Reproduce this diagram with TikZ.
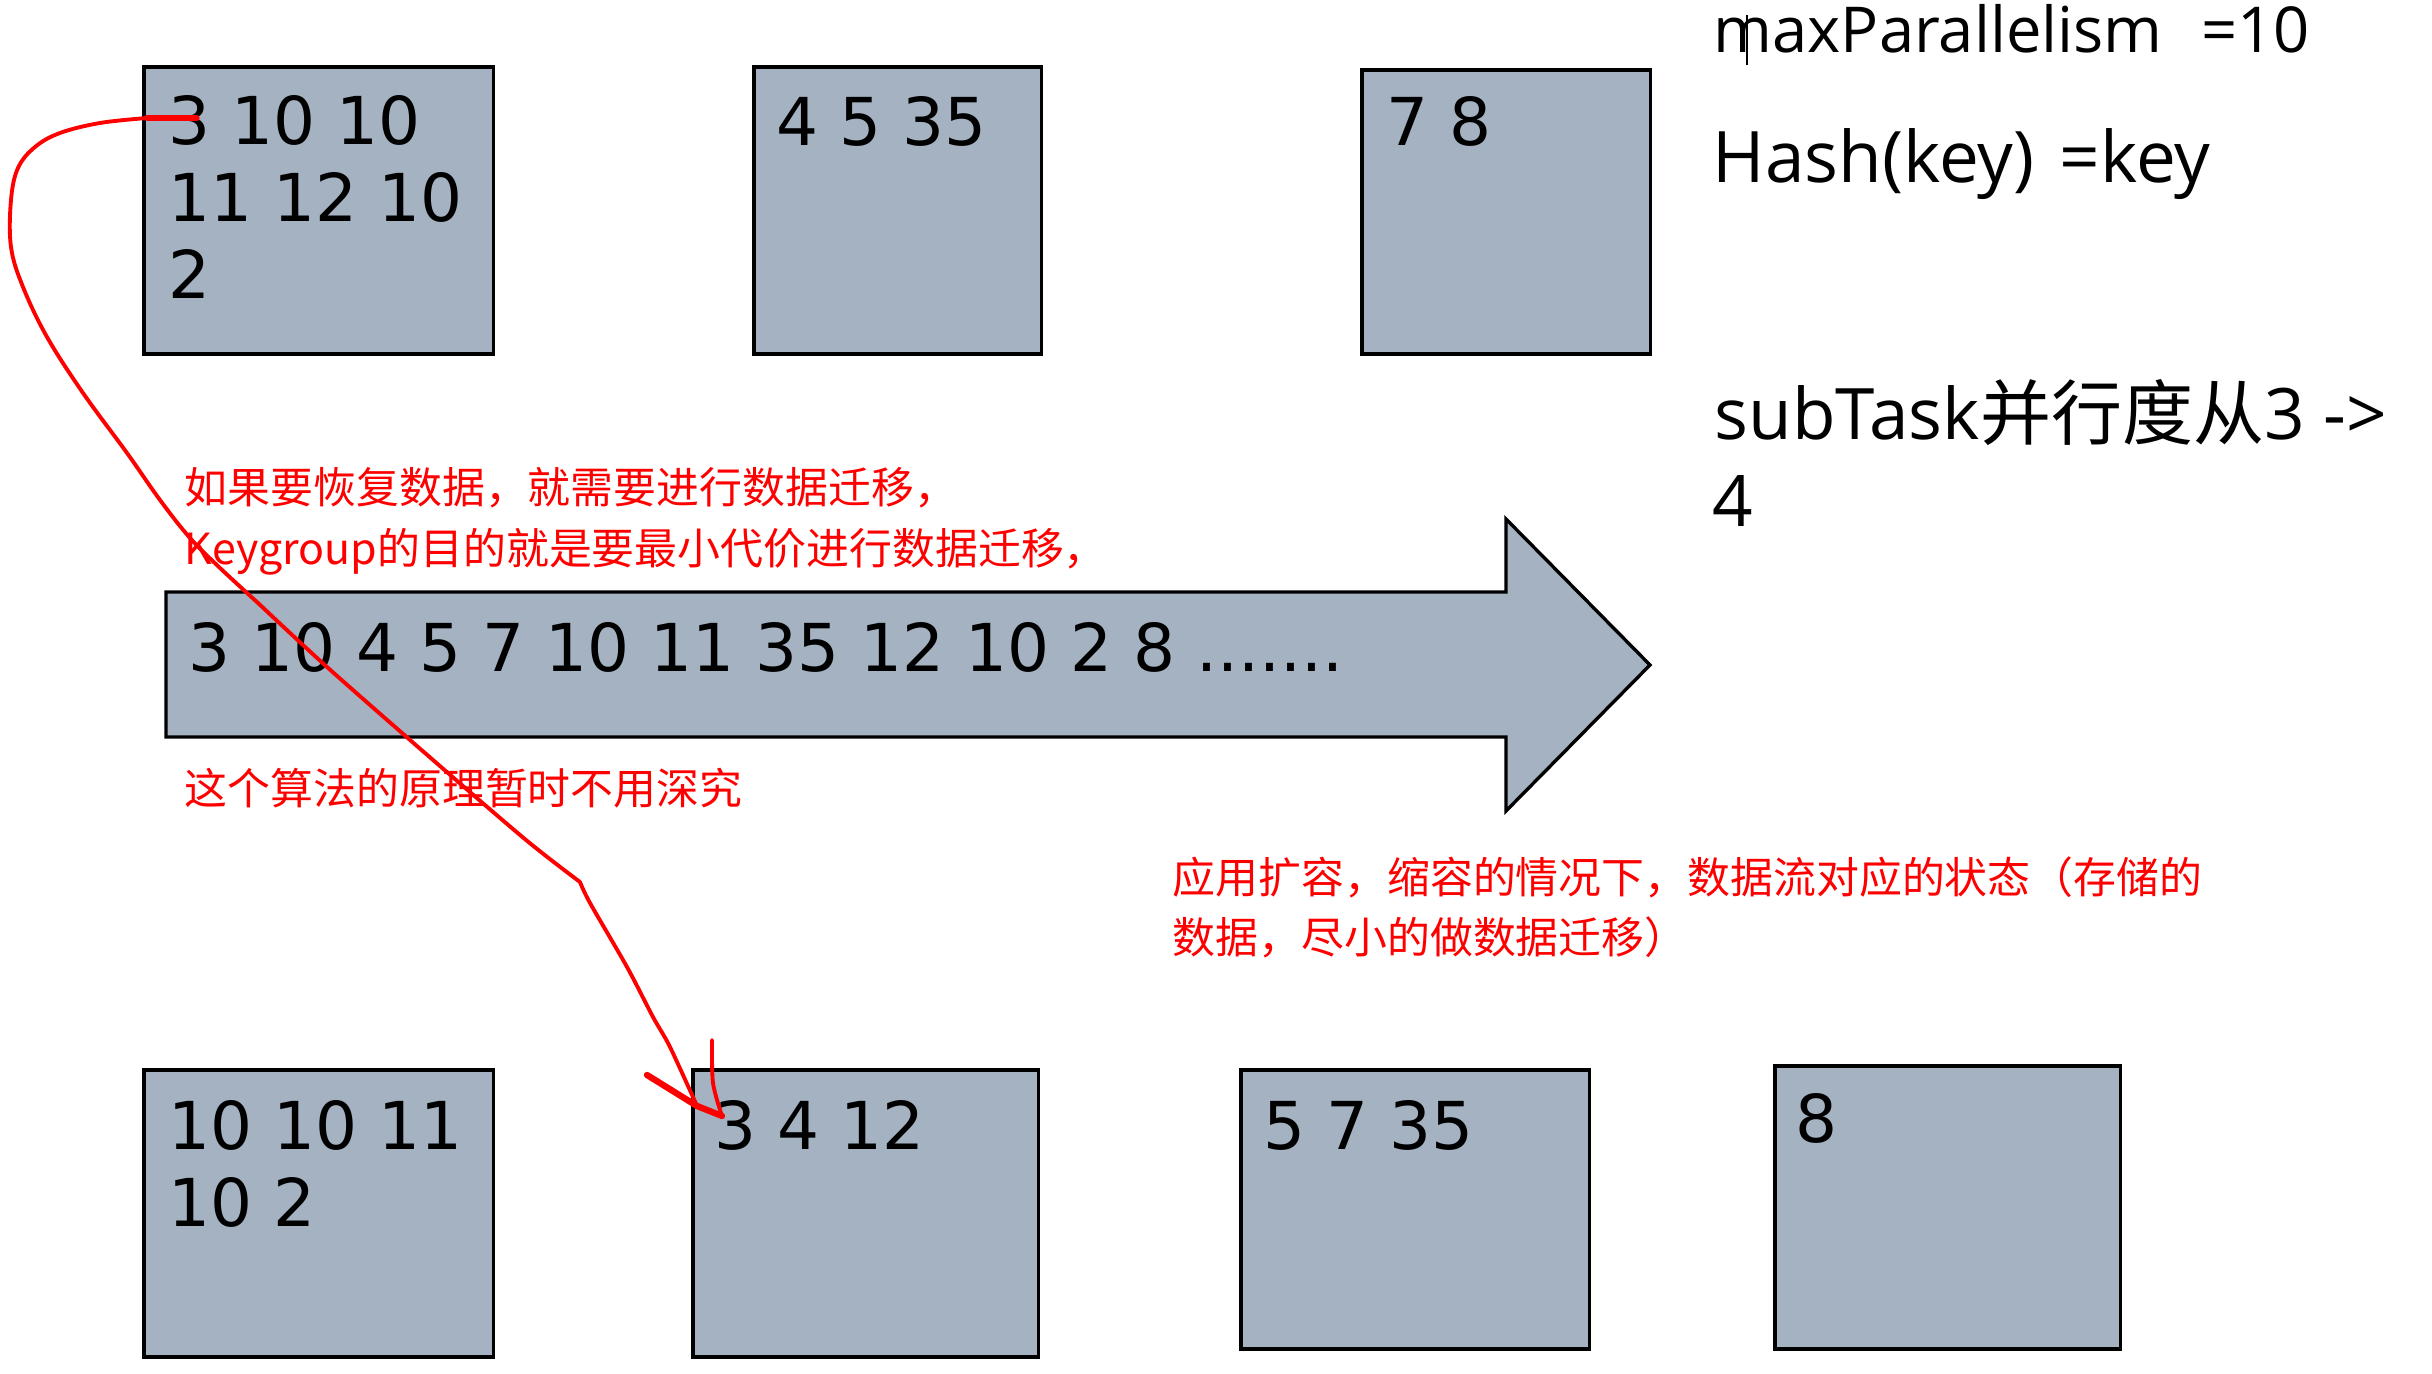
\documentclass[tikz,border=0pt]{standalone}
\usepackage{fontspec}
\setmainfont{DejaVu Sans}
\newfontfamily\numfont{DejaVu Sans}
\newfontfamily\cjkfont{Noto Sans CJK SC}
\newfontfamily\rfont{Open Sans}
\definecolor{boxfill}{HTML}{A4B2C1}
\begin{document}
\begin{tikzpicture}[x=0.01cm,y=-0.01cm,
  box/.style={draw=black, fill=boxfill, line width=0.95pt, anchor=north west, inner sep=0pt, outer sep=0pt},
  num/.style={font=\numfont\fontsize{18.78pt}{21.9pt}\selectfont, anchor=north west, inner sep=0pt, align=left},
  note/.style={font=\cjkfont\fontsize{12.2pt}{17.4pt}\selectfont, text=red, anchor=base west, inner sep=0pt},
  info/.style={font=\rfont\fontsize{20.2pt}{24pt}\selectfont, anchor=base west, inner sep=0pt},
  redline/.style={draw=red, line width=1.1pt, line cap=round, line join=round}]
\useasboundingbox (0,0) rectangle (2432,1374);
\fill[white] (0,0) rectangle (2432,1374);
% top boxes
\node[box, minimum width=3.49cm, minimum height=2.87cm] (A) at (144,67) {};
\node[box, minimum width=2.87cm, minimum height=2.87cm] (B) at (754,67) {};
\node[box, minimum width=2.88cm, minimum height=2.84cm] (C) at (1362,70) {};
\node[num] (ta) at (168,95) {3 10 10\\11 12 10\\2};
\node[num] (tb) at (776,96) {4 5 35};
\node[num] (tc) at (1386,96) {7 8};
% bottom boxes
\node[box, minimum width=3.49cm, minimum height=2.87cm] (D) at (144,1070) {};
\node[box, minimum width=3.45cm, minimum height=2.87cm] (E) at (693,1070) {};
\node[box, minimum width=3.48cm, minimum height=2.79cm] (F) at (1241,1070) {};
\node[box, minimum width=3.45cm, minimum height=2.83cm] (G) at (1775,1066) {};
\node[num] (td) at (168,1100) {10 10 11\\10 2};
\node[num] (te) at (714,1100) {3 4 12};
\node[num] (tf) at (1263,1100) {5 7 35};
\node[num] (tg) at (1795,1093) {8};
% big arrow
\draw[draw=black, fill=boxfill, line width=0.95pt, line join=miter]
  (166,592) -- (1506,592) -- (1506,519) -- (1650,665) -- (1506,811) -- (1506,737) -- (166,737) -- cycle;
\node[num] (stream) at (188,622) {3 10 4 5 7 10 11 35 12 10 2 8 .......};
% right texts
\node[info, font=\rfont\fontsize{18pt}{22pt}\selectfont] (mp) at (1713,53) {maxParallelism\hspace{0.35em} =10};
\draw[line width=0.4pt] (1747,15) -- (1747,65);
\node[info] (hk) at (1712,183) {Hash(key) \hspace{0.1em}=key};
\node[info] (st) at (1714,440) {subTask{\cjkfont 并行度从}3 ->};
\node[info] (st2) at (1712,527) {4};
% red notes
\node[note] (n1) at (184,504) {如果要恢复数据，就需要进行数据迁移，};
\node[note] (n2) at (184,565) {Keygroup的目的就是要最小代价进行数据迁移，};
\node[note] (n3) at (184,805) {这个算法的原理暂时不用深究};
\node[note] (n4) at (1172,894) {应用扩容，缩容的情况下，数据流对应的状态（存储的};
\node[note] (n5) at (1172,954) {数据，尽小的做数据迁移）};
% red hand-drawn connector
\coordinate (cs) at (197,118);
\coordinate (ce) at (697,1106);
\coordinate (tip) at (722,1116);
\draw[redline, line width=1.5pt] (cs) -- (147,118);
\draw[redline] plot[smooth, tension=0.6] coordinates {(147,118) (100,123) (60,133) (35,147) (18,168) (11,200) (11,247) (23,287) (47,337) (83,393) (127,453) (160,500) (190,538) (220,568) (258,603)};
\draw[redline] plot[smooth, tension=0.5] coordinates {(258,603) (327,667) (433,760) (526,840) (580,882)};
\draw[redline] plot[smooth, tension=0.5] coordinates {(580,882) (590,903) (627,967) (653,1017) (670,1047) (ce)};
\draw[redline, line width=1.8pt] (647,1075) -- (ce) -- (tip);
\draw[redline] plot[smooth, tension=0.5] coordinates {(712,1040) (713,1083) (tip)};
\end{tikzpicture}
\end{document}
